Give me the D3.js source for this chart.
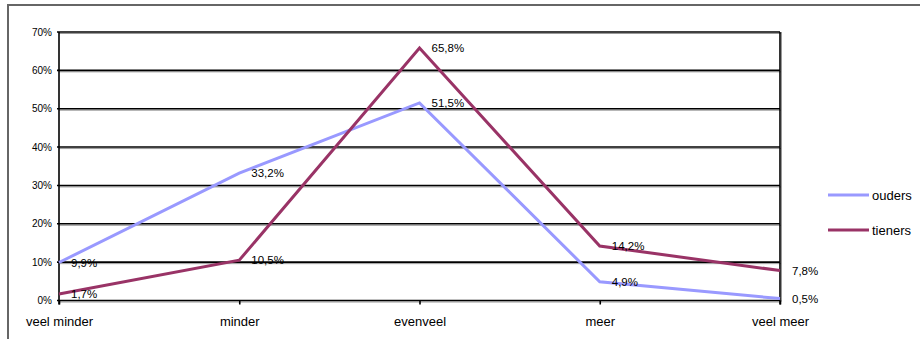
<!DOCTYPE html>
<html><head><meta charset="utf-8">
<script src="https://cdn.jsdelivr.net/npm/d3@7"></script>
<style>body{margin:0;background:#fff}svg{display:block;font-family:"Liberation Sans",Arial,sans-serif}</style>
</head><body>
<svg id="chart" width="920" height="339"></svg>
<script>
const categories = ["veel minder","minder","evenveel","meer","veel meer"];
const ouders = [9.9, 33.2, 51.5, 4.9, 0.5];
const tieners = [1.7, 10.5, 65.8, 14.2, 7.8];
const yTicks = [0,10,20,30,40,50,60,70];
const seriesNames = ["ouders","tieners"];
const seriesColors = ["#9999FF","#993366"];

const svg = d3.select("#chart");
const L = 59, R = 780, T = 32, B = 300.5;
const x = d3.scalePoint().domain(categories).range([L, R]);
const y = d3.scaleLinear().domain([0,70]).range([B, T]);

// outer frame
svg.append("rect").attr("x",8).attr("y",5).attr("width",930).attr("height",360)
  .attr("fill","none").attr("stroke","#666").attr("stroke-width",2);

// gridlines with shadow
const g = svg.append("g");
yTicks.forEach(t => {
  g.append("line").attr("x1",L).attr("x2",R+1).attr("y1",y(t)+1.5).attr("y2",y(t)+1.5)
    .attr("stroke","#999").attr("stroke-width",1);
  g.append("line").attr("x1",L-2).attr("x2",R).attr("y1",y(t)).attr("y2",y(t))
    .attr("stroke","#000").attr("stroke-width",1.6);
});
// right border with shadow
g.append("line").attr("x1",R+1.5).attr("x2",R+1.5).attr("y1",T).attr("y2",B+1).attr("stroke","#999").attr("stroke-width",1);
g.append("line").attr("x1",R).attr("x2",R).attr("y1",T).attr("y2",B+4).attr("stroke","#000").attr("stroke-width",1.6);
// left axis
g.append("line").attr("x1",L).attr("x2",L).attr("y1",T).attr("y2",B+4).attr("stroke","#000").attr("stroke-width",1.6);

// y axis labels
const yAxis = d3.axisLeft(y).tickValues(yTicks).tickFormat(d => d + "%").tickSize(0).tickPadding(7);
const ya = svg.append("g").attr("transform",`translate(${L},0)`).call(yAxis);
ya.select(".domain").remove();
ya.selectAll("text").attr("font-size","10px").attr("fill","#000").attr("font-family","Liberation Sans, Arial, sans-serif");

// x axis
const xAxis = d3.axisBottom(x).tickSize(4).tickPadding(12);
const xa = svg.append("g").attr("transform",`translate(0,${B})`).call(xAxis);
xa.select(".domain").remove();
xa.selectAll("line").attr("stroke","#000").attr("stroke-width",1.6);
xa.selectAll("text").attr("font-size","13px").attr("fill","#000").attr("font-family","Liberation Sans, Arial, sans-serif").attr("dy","0.71em");

const fmt = v => d3.format(".1f")(v).replace(".", ",") + "%";
const line = d3.line().x((d,i) => x(categories[i])).y(d => y(d));
[ouders, tieners].forEach((s, k) => {
  svg.append("path").datum(s).attr("d", line).attr("fill","none")
    .attr("stroke", seriesColors[k]).attr("stroke-width",3).attr("stroke-linejoin","miter");
});
[ouders, tieners].forEach((s, k) => {
  svg.append("g").selectAll("text").data(s).join("text")
    .attr("x",(d,i) => x(categories[i]) + 12).attr("y", d => y(d)).attr("dy","0.36em")
    .attr("font-size","11.5px").attr("fill","#000").text(d => fmt(d));
});

// legend
seriesNames.forEach((n, k) => {
  const ly = 195 + k*35;
  svg.append("line").attr("x1",828).attr("x2",869).attr("y1",ly).attr("y2",ly)
    .attr("stroke",seriesColors[k]).attr("stroke-width",3);
  svg.append("text").attr("x",872).attr("y",ly).attr("dy","0.36em")
    .attr("font-size","13px").attr("fill","#000").text(n);
});
</script>
</body></html>
